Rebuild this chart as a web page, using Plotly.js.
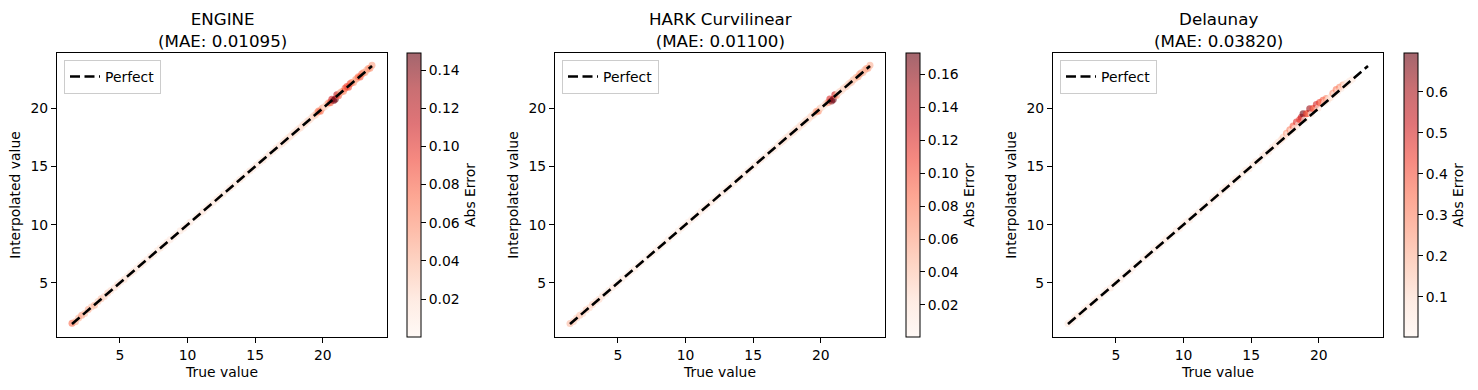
<!DOCTYPE html>
<html>
<head>
<meta charset="utf-8">
<script src="https://cdn.plot.ly/plotly-3.0.1.min.js"></script>
<style>html,body{margin:0;padding:0;background:#fff;}#chart{width:1478px;height:390px;}</style>
</head>
<body>
<div id="chart"></div>
<script>
// ---------- DATA ----------
const methodNames = ['ENGINE', 'HARK Curvilinear', 'Delaunay'];
const maeValues = [0.01095, 0.01100, 0.03820];

// true values of the test points (low range, then denser high range)
const trueLow = [1.46, 1.71, 1.95, 2.18, 2.40, 2.66, 2.89, 3.12, 3.38, 3.61,
  3.85, 4.10, 4.33, 4.59, 4.82, 5.06, 5.31, 5.55, 5.80, 6.04,
  6.27, 6.53, 6.78, 7.01, 7.26, 7.50, 7.75, 7.99, 8.23, 8.48,
  8.72, 8.97, 9.21, 9.46, 9.70, 9.95, 10.19, 10.44, 10.68, 10.93,
  11.17, 11.42, 11.66, 11.91, 12.15, 12.40, 12.64, 12.89, 13.13, 13.38,
  13.62, 13.87, 14.11, 14.36, 14.60, 14.85, 15.09, 15.34, 15.58, 15.83,
  16.07, 16.32, 16.56, 16.81, 17.00];
const trueHigh = [17.12, 17.24, 17.37, 17.49, 17.61, 17.73, 17.86, 17.98, 18.10, 18.22,
  18.35, 18.47, 18.59, 18.71, 18.84, 18.96, 19.08, 19.20, 19.33, 19.45,
  19.57, 19.69, 19.82, 19.94, 20.06, 20.18, 20.31, 20.43, 20.55, 20.67,
  20.80, 20.92, 21.04, 21.16, 21.29, 21.41, 21.53, 21.65, 21.78, 21.90,
  22.02, 22.14, 22.27, 22.39, 22.51, 22.63, 22.76, 22.88, 23.00, 23.12,
  23.25, 23.37, 23.49, 23.64];

// signed errors (interpolated - true) per method
const engineErrLow = [0.075, -0.045, 0.040, 0.050, -0.035, 0.045, 0.030, -0.040, 0.028, 0.035,
  -0.025, 0.030, 0.020, -0.018, 0.022, 0.015, -0.020, 0.012, 0.018, -0.015,
  0.010, 0.016, -0.012, 0.009, 0.014, -0.011, 0.008, 0.013, -0.010, 0.012,
  0.009, -0.011, 0.008, 0.010, -0.013, 0.009, 0.012, -0.0001, 0.011, 0.010,
  -0.014, 0.009, 0.012, -0.010, 0.015, 0.011, -0.013, 0.009, 0.014, -0.012,
  0.010, 0.015, -0.011, 0.013, 0.016, -0.012, 0.014, 0.010, -0.017, 0.013,
  0.015, -0.012, 0.018, 0.014, -0.016];
const engineErrHigh = [0.012, -0.015, 0.018, 0.011, -0.016, 0.014, 0.019, -0.012, 0.017, 0.013,
  -0.018, 0.015, 0.020, -0.014, 0.017, 0.022, -0.016, 0.019, 0.024, -0.028,
  0.040, 0.070, -0.075, 0.050, 0.030, -0.020, 0.030, 0.050, -0.080, 0.110,
  -0.140, -0.149, 0.120, -0.080, 0.050, 0.040, -0.060, 0.080, 0.090, -0.085,
  0.090, 0.070, -0.050, 0.040, 0.050, 0.070, -0.080, 0.075, 0.060, -0.045,
  0.040, 0.050, -0.055, 0.050];

const harkErrLow = [0.045, -0.035, 0.030, 0.038, -0.028, 0.032, -0.025, 0.030, 0.022, -0.026,
  0.020, -0.018, 0.015, 0.012, -0.014, 0.010, 0.013, -0.009, 0.011, 0.008,
  -0.010, 0.007, 0.009, -0.0005, 0.008, 0.010, -0.007, 0.009, 0.006, -0.008,
  0.010, 0.007, -0.009, 0.008, 0.011, -0.007, 0.009, 0.008, -0.010, 0.012,
  0.008, -0.011, 0.009, 0.013, -0.010, 0.012, 0.009, -0.014, 0.011, 0.013,
  -0.010, 0.015, 0.012, -0.013, 0.016, 0.011, -0.015, 0.014, 0.017, -0.012,
  0.016, 0.013, -0.018, 0.015, 0.019];
const harkErrHigh = [0.014, -0.017, 0.015, 0.019, -0.013, 0.018, 0.016, -0.020, 0.015, 0.021,
  -0.017, 0.019, 0.022, -0.018, 0.020, 0.023, -0.019, 0.021, 0.025, -0.022,
  0.030, 0.060, -0.065, 0.040, 0.020, -0.015, 0.020, 0.030, -0.060, 0.120,
  -0.165, -0.173, 0.130, -0.060, 0.030, 0.025, -0.020, 0.028, 0.022, -0.030,
  0.025, 0.030, -0.035, 0.040, 0.030, 0.040, -0.050, 0.060, 0.055, -0.040,
  0.045, 0.050, -0.055, 0.050];

const delaunayErrLow = [0.060, -0.045, 0.055, 0.040, -0.050, 0.045, 0.038, -0.042, 0.050, 0.035,
  -0.040, 0.032, 0.046, -0.036, 0.034, 0.044, -0.030, 0.038, 0.032, -0.042,
  0.034, 0.040, -0.002, 0.036, 0.045, -0.033, 0.038, 0.031, -0.043, 0.035,
  0.044, -0.030, 0.037, 0.047, -0.034, 0.040, 0.033, -0.045, 0.041, 0.036,
  -0.044, 0.048, 0.035, -0.040, 0.046, 0.052, -0.041, 0.047, 0.055, -0.048,
  0.044, 0.058, -0.050, 0.053, 0.062, -0.051, 0.060, 0.056, -0.064, 0.066,
  0.068, -0.058, 0.072, 0.065, 0.075];
const delaunayErrHigh = [0.030, 0.080, 0.150, 0.040, 0.250, 0.050, 0.300, 0.060, 0.380, 0.050,
  0.480, 0.080, 0.440, 0.520, 0.695, 0.060, 0.460, 0.350, 0.620, 0.050,
  0.420, 0.300, 0.500, 0.070, 0.440, 0.250, 0.380, 0.060, 0.300, 0.050,
  0.100, 0.040, 0.260, 0.050, 0.320, 0.060, 0.280, 0.050, 0.220, 0.040,
  0.100, 0.030, 0.050, 0.020, 0.030, null, null, null, null, null,
  null, null, null, null];

const xTickVals = [5, 10, 15, 20];
const yTickVals = [5, 10, 15, 20];
const cbTickVals = [
  [0.02, 0.04, 0.06, 0.08, 0.10, 0.12, 0.14],
  [0.02, 0.04, 0.06, 0.08, 0.10, 0.12, 0.14, 0.16],
  [0.1, 0.2, 0.3, 0.4, 0.5, 0.6]
];

// ---------- BUILD ----------
const trueValues = trueLow.concat(trueHigh);
const errSets = [
  engineErrLow.concat(engineErrHigh),
  harkErrLow.concat(harkErrHigh),
  delaunayErrLow.concat(delaunayErrHigh)
];

const FONT = 'DejaVu Sans';
const FS = 13.9;
const W = 1478, H = 390;
const axL = [57, 555, 1053];
const axW = 330;
const axTop = 53, axBot = 337;
const cbL = [407, 905.5, 1403.5];

const reds = [[0, 'rgba(255,245,240,0.6)'], [0.125, 'rgba(254,224,210,0.6)'], [0.25, 'rgba(252,187,161,0.6)'],
  [0.375, 'rgba(252,146,114,0.6)'], [0.5, 'rgba(251,106,74,0.6)'], [0.625, 'rgba(239,59,44,0.6)'],
  [0.75, 'rgba(203,24,29,0.6)'], [0.875, 'rgba(165,15,21,0.6)'], [1, 'rgba(103,0,13,0.6)']];

const lo = Math.min(...trueValues), hi = Math.max(...trueValues);
const pad = 0.05 * (hi - lo);
const rng = [lo - pad, hi + pad];

const traces = [];
const layout = {
  width: W, height: H,
  margin: {l: 0, r: 0, t: 0, b: 0},
  paper_bgcolor: '#fff', plot_bgcolor: '#fff',
  font: {family: FONT, size: FS, color: '#000'},
  annotations: [],
  showlegend: true
};

methodNames.forEach((name, i) => {
  const xs = [], ys = [], cs = [];
  trueValues.forEach((t, k) => {
    const e = errSets[i][k];
    if (e === null || e === undefined) return;
    xs.push(t); ys.push(t + e); cs.push(Math.abs(e));
  });
  const sfx = i === 0 ? '' : String(i + 1);
  traces.push({
    type: 'scatter', mode: 'markers', x: xs, y: ys,
    xaxis: 'x' + sfx, yaxis: 'y' + sfx, showlegend: false, hoverinfo: 'skip',
    marker: {
      size: 7, color: cs, colorscale: reds, showscale: true,
      line: {width: 0},
      colorbar: {
        x: cbL[i] / W, xanchor: 'left', xpad: 0, ypad: 0,
        y: 0.5, yanchor: 'middle', len: (axBot - axTop) / H, lenmode: 'fraction',
        thickness: 14, thicknessmode: 'pixels',
        outlinewidth: 1, outlinecolor: '#000',
        ticks: 'outside', ticklen: 5, tickwidth: 1, tickcolor: '#000',
        tickvals: cbTickVals[i], tickformat: i === 2 ? '.1f' : '.2f',
        tickfont: {family: FONT, size: FS, color: '#000'},
        title: {text: 'Abs Error', side: 'right', font: {family: FONT, size: FS, color: '#000'}}
      }
    }
  });
  traces.push({
    type: 'scatter', mode: 'lines', x: [lo, hi], y: [lo, hi],
    xaxis: 'x' + sfx, yaxis: 'y' + sfx, name: 'Perfect', hoverinfo: 'skip',
    legend: 'legend' + sfx, showlegend: true,
    line: {color: '#000', width: 2.6, dash: '10px,4.5px'}
  });

  const axBase = {
    range: rng, showline: true, linecolor: '#000', linewidth: 1.1, mirror: true,
    ticks: 'outside', ticklen: 5, tickwidth: 1.1, tickcolor: '#000',
    showgrid: false, zeroline: false,
    tickfont: {family: FONT, size: FS, color: '#000'}
  };
  layout['xaxis' + sfx] = Object.assign({}, axBase, {
    domain: [axL[i] / W, (axL[i] + axW) / W], anchor: 'y' + sfx, tickvals: xTickVals,
    title: {text: 'True value', standoff: 5, font: {family: FONT, size: FS, color: '#000'}}
  });
  layout['yaxis' + sfx] = Object.assign({}, axBase, {
    domain: [1 - axBot / H, 1 - axTop / H], anchor: 'x' + sfx, tickvals: yTickVals,
    title: {text: 'Interpolated value', standoff: 6, font: {family: FONT, size: FS, color: '#000'}}
  });
  layout['legend' + sfx] = {
    x: (axL[i] + 7) / W, xanchor: 'left', y: 1 - (axTop + 7) / H, yanchor: 'top',
    bgcolor: 'rgba(255,255,255,0.8)', bordercolor: '#cccccc', borderwidth: 1,
    font: {family: FONT, size: FS, color: '#000'}
  };
  layout.annotations.push({
    xref: 'paper', yref: 'paper', x: (axL[i] + axW / 2) / W, y: 1 - (axTop + 0.5) / H,
    xanchor: 'center', yanchor: 'bottom', showarrow: false,
    text: name + '<br>(MAE: ' + maeValues[i].toFixed(5) + ')',
    font: {family: FONT, size: 16.7, color: '#000'}
  });
});

Plotly.newPlot('chart', traces, layout, {staticPlot: true, displayModeBar: false});
</script>
</body>
</html>
